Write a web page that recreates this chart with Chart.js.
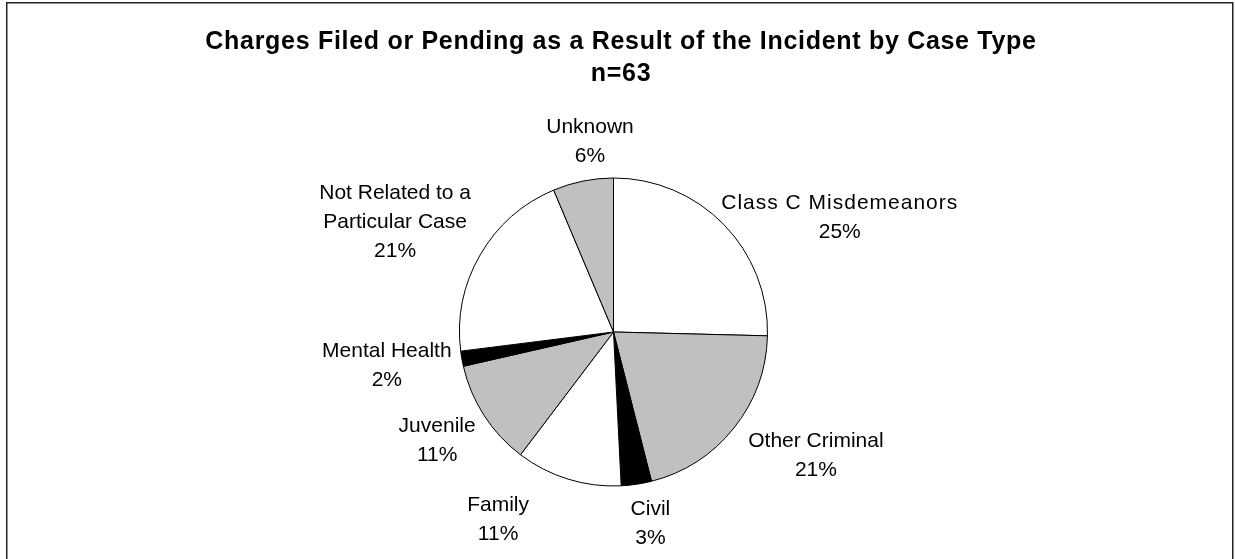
<!DOCTYPE html>
<html><head><meta charset="utf-8">
<script src="https://cdn.jsdelivr.net/npm/chart.js@4.4.0/dist/chart.umd.min.js"></script>
<style>html,body{margin:0;padding:0;background:#fff;overflow:hidden}#wrap{width:1235px;height:559px;position:relative}</style>
</head><body><div id="wrap"><canvas id="c" width="1235" height="559"></canvas></div>
<script>
// ---- data ----
const categories = ['Class C Misdemeanors', 'Other Criminal', 'Civil', 'Family', 'Juvenile', 'Mental Health', 'Not Related to a Particular Case', 'Unknown'];
const categoryLines = [['Class C Misdemeanors'], ['Other Criminal'], ['Civil'], ['Family'], ['Juvenile'], ['Mental Health'], ['Not Related to a', 'Particular Case'], ['Unknown']];
const caseCounts = [16, 13, 2, 7, 7, 1, 13, 4];
const titleLines = ['Charges Filed or Pending as a Result of the Incident by Case Type', 'n=63'];

// ---- styling / layout ----
const sliceColors = ['#FFFFFF', '#C0C0C0', '#000000', '#FFFFFF', '#C0C0C0', '#000000', '#FFFFFF', '#C0C0C0'];
// label block centre offset from the slice's outer mid-point
const labelOffsets = [[116, -7], [82, 28], [14, 39], [-70, 41], [-47, 25], [-75, 7], [-85, -33], [7, -39]];
const labelSpacing = ['1px', '0px', '0px', '0px', '0px', '0px', '0px', '0px'];
const LABEL_FONT = '21px "Liberation Sans", Arial, sans-serif';
const TITLE_FONT = 'bold 25px "Liberation Sans", Arial, sans-serif';
const LABEL_LH = 29;

const total = caseCounts.reduce((a, b) => a + b, 0);

const decor = {
  id: 'decor',
  afterDraw(chart) {
    const ctx = chart.ctx;
    ctx.save();
    // frame
    ctx.strokeStyle = '#222';
    ctx.lineWidth = 1.5;
    ctx.strokeRect(6.75, 2.75, 1226, 620);
    // title
    ctx.fillStyle = '#000';
    ctx.font = TITLE_FONT;
    ctx.textAlign = 'center';
    ctx.textBaseline = 'middle';
    ctx.letterSpacing = '0.7px';
    ctx.fillText(titleLines[0], 621, 42);
    ctx.fillText(titleLines[1], 621, 74);
    // labels
    ctx.font = LABEL_FONT;
    const meta = chart.getDatasetMeta(0);
    meta.data.forEach((arc, i) => {
      const p = arc.getProps(['x', 'y', 'startAngle', 'endAngle', 'outerRadius'], true);
      const mid = (p.startAngle + p.endAngle) / 2;
      const ex = p.x + Math.cos(mid) * p.outerRadius;
      const ey = p.y + Math.sin(mid) * p.outerRadius;
      const cx = ex + labelOffsets[i][0];
      const cy = ey + labelOffsets[i][1];
      const lines = categoryLines[i].concat([Math.round(caseCounts[i] / total * 100) + '%']);
      const n = lines.length;
      lines.forEach((t, k) => {
        ctx.letterSpacing = (k < n - 1) ? labelSpacing[i] : '0px';
        ctx.fillText(t, cx, cy + (k - (n - 1) / 2) * LABEL_LH);
      });
    });
    ctx.restore();
  }
};

new Chart(document.getElementById('c'), {
  type: 'pie',
  data: {
    labels: categories,
    datasets: [{
      data: caseCounts,
      backgroundColor: sliceColors,
      borderColor: '#000',
      borderWidth: 1
    }]
  },
  options: {
    responsive: false,
    animation: false,
    layout: { padding: { top: 177.5, bottom: 72.5, left: 413.5, right: 421.5 } },
    plugins: { legend: { display: false }, tooltip: { enabled: false }, title: { display: false } }
  },
  plugins: [decor]
});
</script></body></html>
